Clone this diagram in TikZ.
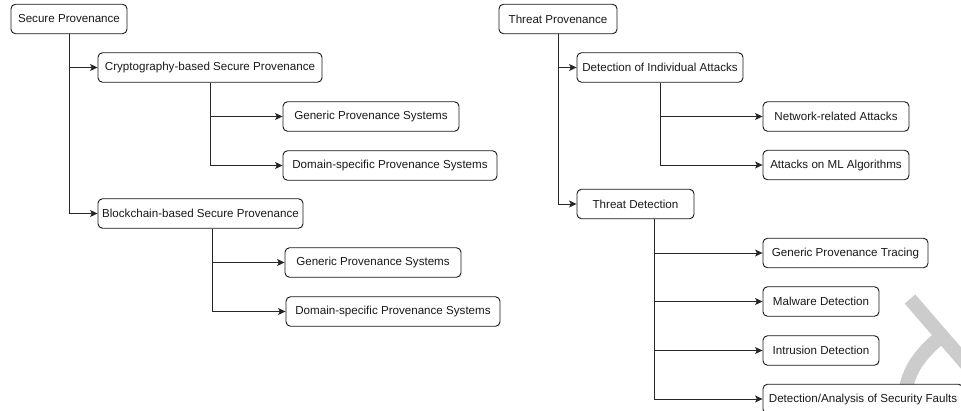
\documentclass[tikz,border=0pt]{standalone}
\usepackage{fontspec}
\setmainfont{Liberation Sans}
\usetikzlibrary{arrows.meta}
\begin{document}
\begin{tikzpicture}[x=1pt, y=-1pt,
  box/.style={draw=black!90, fill=white, line width=0.9pt, rounded corners=4.5pt,
    minimum height=29.5pt, inner sep=0pt, text=black!90,
    font=\fontsize{11.6}{13.9}\selectfont},
  conn/.style={draw=black!85, line width=1pt,
    -{Stealth[length=7.5pt, width=7pt, inset=1.8pt]}},
  greystroke/.style={draw=black!20, line width=14pt}
]
\useasboundingbox (0,0) rectangle (961,410);

% grey stroke in the lower right corner, behind the boxes
\begin{scope}
  \clip (0,0) rectangle (961,410);
  \draw[greystroke] (910,299) -- (980,380);
  \draw[greystroke] (937,340) .. controls (912,362) and (903,380) .. (903,420);
\end{scope}

% secure provenance branch
\node[box, minimum width=116pt] (sp)   at (69,19)    {Secure Provenance};
\node[box, minimum width=224pt] (cry)  at (210,67.5) {Cryptography-based Secure Provenance};
\node[box, minimum width=176pt] (gen1) at (371,116.5) {Generic Provenance Systems};
\node[box, minimum width=214pt] (dom1) at (390,165.5) {Domain-specific Provenance Systems};
\node[box, minimum width=205pt] (blk)  at (200.5,213.5) {Blockchain-based Secure Provenance};
\node[box, minimum width=176pt] (gen2) at (373,262.5) {Generic Provenance Systems};
\node[box, minimum width=214pt] (dom2) at (393,311.5) {Domain-specific Provenance Systems};

% threat provenance branch
\node[box, minimum width=118pt] (tp)   at (558,19)    {Threat Provenance};
\node[box, minimum width=166pt] (dia)  at (660,67.5)  {Detection of Individual Attacks};
\node[box, minimum width=146pt] (net)  at (836,116.5) {Network-related Attacks};
\node[box, minimum width=146pt] (ml)   at (836,165)   {Attacks on ML Algorithms};
\node[box, minimum width=117pt] (td)   at (635.5,204) {Threat Detection};
\node[box, minimum width=165pt] (gpt)  at (845.5,253) {Generic Provenance Tracing};
\node[box, minimum width=116pt] (mal)  at (821,301.5) {Malware Detection};
\node[box, minimum width=116pt] (intr) at (821,350.5) {Intrusion Detection};
\node[box, minimum width=200pt] (daf)  at (863,399)   {Detection/Analysis of Security Faults};

% connectors
\draw[conn] (sp.south) |- (cry.west);
\draw[conn] (sp.south) |- (blk.west);
\draw[conn] (cry.south) |- (gen1.west);
\draw[conn] (cry.south) |- (dom1.west);
\draw[conn] ([xshift=12pt]blk.south) |- (gen2.west);
\draw[conn] ([xshift=12pt]blk.south) |- (dom2.west);

\draw[conn] (tp.south) |- (dia.west);
\draw[conn] (tp.south) |- (td.west);
\draw[conn] (dia.south) |- (net.west);
\draw[conn] (dia.south) |- (ml.west);
\draw[conn] ([xshift=19pt]td.south) |- (gpt.west);
\draw[conn] ([xshift=19pt]td.south) |- (mal.west);
\draw[conn] ([xshift=19pt]td.south) |- (intr.west);
\draw[conn] ([xshift=19pt]td.south) |- (daf.west);
\end{tikzpicture}
\end{document}
